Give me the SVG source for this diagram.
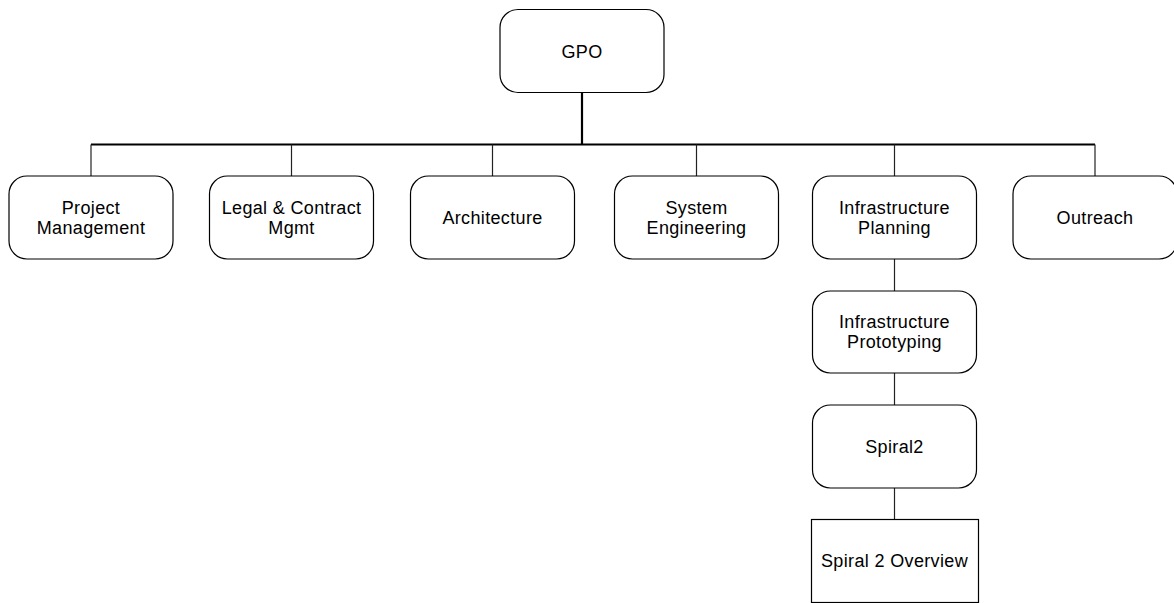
<svg xmlns="http://www.w3.org/2000/svg" width="1174" height="603" viewBox="0 0 1174 603">
<style>
.box{fill:#fff;stroke:#000;stroke-width:1.2}
.t{font-family:"Liberation Sans",Arial,sans-serif;font-size:18px;letter-spacing:0.35px;fill:#000;text-anchor:middle}
.c{stroke:#222;stroke-width:1.2;fill:none}
.ct{stroke:#000;stroke-width:2.2;fill:none}
</style>
<rect width="1174" height="603" fill="#fff"/>
<g id="connectors">
<line class="ct" x1="582" y1="93" x2="582" y2="144.5"/>
<line class="ct" x1="91" y1="144.5" x2="1095" y2="144.5"/>
<line class="c" x1="91" y1="144.5" x2="91" y2="176"/>
<line class="c" x1="291.5" y1="144.5" x2="291.5" y2="176"/>
<line class="c" x1="492.5" y1="144.5" x2="492.5" y2="176"/>
<line class="c" x1="696.5" y1="144.5" x2="696.5" y2="176"/>
<line class="c" x1="894.5" y1="144.5" x2="894.5" y2="176"/>
<line class="c" x1="1095" y1="144.5" x2="1095" y2="176"/>
<line class="c" x1="894.5" y1="259" x2="894.5" y2="291"/>
<line class="c" x1="894.5" y1="373" x2="894.5" y2="405"/>
<line class="c" x1="894.5" y1="488" x2="894.5" y2="519"/>
</g>
<g id="gpo">
<rect class="box" x="500" y="9.5" width="164" height="83" rx="18"/>
<text class="t" x="582" y="57.5">GPO</text>
</g>
<g id="project-management">
<rect class="box" x="9" y="176" width="164" height="83" rx="18"/>
<text class="t" x="91" y="213.5">Project</text>
<text class="t" x="91" y="233.5">Management</text>
</g>
<g id="legal-contract">
<rect class="box" x="209.5" y="176" width="164" height="83" rx="18"/>
<text class="t" x="291.5" y="213.5">Legal &amp; Contract</text>
<text class="t" x="291.5" y="233.5">Mgmt</text>
</g>
<g id="architecture">
<rect class="box" x="410.5" y="176" width="164" height="83" rx="18"/>
<text class="t" x="492.5" y="223.5">Architecture</text>
</g>
<g id="system-engineering">
<rect class="box" x="614.5" y="176" width="164" height="83" rx="18"/>
<text class="t" x="696.5" y="213.5">System</text>
<text class="t" x="696.5" y="233.5">Engineering</text>
</g>
<g id="infrastructure-planning">
<rect class="box" x="812.5" y="176" width="164" height="83" rx="18"/>
<text class="t" x="894.5" y="213.5">Infrastructure</text>
<text class="t" x="894.5" y="233.5">Planning</text>
</g>
<g id="outreach">
<rect class="box" x="1013" y="176" width="164" height="83" rx="18"/>
<text class="t" x="1095" y="223.5">Outreach</text>
</g>
<g id="infrastructure-prototyping">
<rect class="box" x="812.5" y="291" width="164" height="82" rx="18"/>
<text class="t" x="894.5" y="327.5">Infrastructure</text>
<text class="t" x="894.5" y="347.5">Prototyping</text>
</g>
<g id="spiral2">
<rect class="box" x="812.5" y="405" width="164" height="83" rx="18"/>
<text class="t" x="894.5" y="452.5">Spiral2</text>
</g>
<g id="spiral2-overview">
<rect class="box" x="811.5" y="519.5" width="167" height="83"/>
<text class="t" x="894.5" y="566.5">Spiral 2 Overview</text>
</g>
</svg>
